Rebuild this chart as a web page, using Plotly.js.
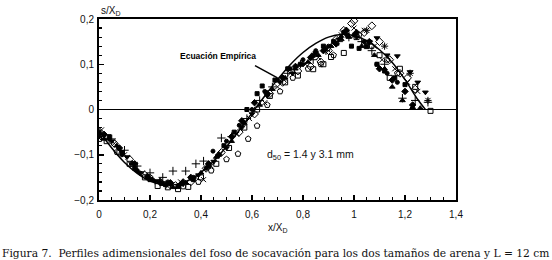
<!DOCTYPE html>
<html><head><meta charset="utf-8">
<script src="https://cdn.plot.ly/plotly-3.0.1.min.js"></script>
<style>html,body{margin:0;padding:0;background:#fff}#c{width:552px;height:260px}</style>
</head><body><div id="c"></div>
<script>
// Empirical equation curve
const curveX = [0,0.05,0.1,0.15,0.2,0.25,0.3,0.35,0.4,0.45,0.5,0.55,0.6,0.65,0.7,0.75,0.8,0.85,0.9,0.95,1.0,1.05,1.1,1.15,1.2,1.25,1.28];
const curveY = [-0.048,-0.085,-0.117,-0.141,-0.158,-0.166,-0.166,-0.157,-0.139,-0.114,-0.082,-0.046,-0.008,0.030,0.066,0.099,0.126,0.146,0.160,0.166,0.163,0.152,0.132,0.104,0.066,0.022,0.0];

// Measured profiles
const diamondX = [0.01,0.06,0.12,0.18,0.24,0.30,0.36,0.42,0.48,0.55,0.61,0.67,0.72,0.78,0.83,0.87,0.90,0.93,0.96,0.99,1.00,1.04,1.07,1.10,1.14,1.18,1.21,1.24];
const diamondY = [-0.06,-0.075,-0.11,-0.145,-0.16,-0.168,-0.16,-0.13,-0.095,-0.05,-0.01,0.035,0.06,0.085,0.095,0.105,0.13,0.155,0.175,0.19,0.196,0.17,0.185,0.15,0.11,0.08,0.07,0.045];

const sqX = [0.0,0.04,0.09,0.14,0.2,0.26,0.31,0.37,0.43,0.49,0.53,0.58,0.62,0.64,0.69,0.74,0.79,0.84,0.88,0.92,0.96,0.99,1.02,1.05,1.09,1.12,1.16,1.2];
const sqY = [-0.05,-0.06,-0.095,-0.13,-0.155,-0.165,-0.17,-0.155,-0.125,-0.08,-0.05,0.0,0.035,0.052,0.065,0.09,0.1,0.12,0.14,0.15,0.17,0.14,0.135,0.14,0.1,0.085,0.07,0.055];

const triUpX = [0.02,0.07,0.13,0.19,0.25,0.29,0.34,0.4,0.46,0.52,0.57,0.63,0.68,0.73,0.77,0.82,0.86,0.91,0.95,0.98,1.03,1.08,1.12,1.15,1.19,1.23,1.26];
const triUpY = [-0.065,-0.08,-0.12,-0.15,-0.165,-0.172,-0.162,-0.14,-0.105,-0.07,-0.03,0.01,0.045,0.07,0.09,0.105,0.12,0.14,0.155,0.16,0.14,0.12,0.09,0.05,0.02,0.005,0.003];

const triDnX = [0.0,0.05,0.11,0.16,0.22,0.28,0.33,0.39,0.45,0.5,0.56,0.6,0.66,0.71,0.76,0.8,0.85,0.89,0.94,0.97,1.01,1.06,1.09,1.13,1.17,1.22,1.25,1.28];
const triDnY = [-0.055,-0.07,-0.105,-0.14,-0.158,-0.165,-0.165,-0.145,-0.115,-0.085,-0.04,-0.01,0.03,0.06,0.08,0.1,0.125,0.135,0.155,0.165,0.16,0.15,0.158,0.12,0.118,0.083,0.06,0.038];

const xmX = [0.01,0.06,0.1,0.17,0.23,0.27,0.32,0.38,0.41,0.44,0.54,0.59,0.65,0.7,0.75,0.81,0.86,0.9,0.95,1.0,1.04,1.08,1.11,1.16,1.21,1.25];
const xmY = [-0.045,-0.075,-0.1,-0.14,-0.16,-0.17,-0.16,-0.15,-0.155,-0.125,-0.055,-0.02,0.015,0.05,0.08,0.1,0.115,0.13,0.165,0.18,0.175,0.14,0.11,0.09,0.06,0.04];

const plusX = [0.0,0.05,0.1,0.15,0.2,0.25,0.29,0.34,0.38,0.41,0.48,0.52,0.58,0.63,0.68,0.74,0.79,0.84,0.89,0.94,0.98,1.03,1.07,1.12,1.19,1.24,1.29];
const plusY = [-0.05,-0.065,-0.09,-0.125,-0.14,-0.15,-0.136,-0.136,-0.12,-0.114,-0.063,-0.06,-0.02,0.02,0.05,0.08,0.1,0.11,0.13,0.15,0.16,0.15,0.13,0.1,0.025,0.02,0.016];

const osqX = [0.0,0.03,0.08,0.12,0.18,0.23,0.27,0.31,0.35,0.4,0.46,0.51,0.57,0.62,0.67,0.73,0.78,0.84,0.88,0.91,0.96,1.01,1.05,1.1,1.14,1.18,1.24,1.3];
const osqY = [-0.065,-0.07,-0.095,-0.12,-0.15,-0.169,-0.172,-0.176,-0.171,-0.15,-0.12,-0.085,-0.04,0.0,0.03,0.06,0.075,0.089,0.1,0.116,0.125,0.16,0.14,0.12,0.07,0.09,0.05,-0.003];

const pentX = [0.07,0.13,0.2,0.26,0.33,0.39,0.44,0.5,0.545,0.585,0.62,0.66,0.71,0.76,0.82,0.87,0.92,0.97,1.02,1.07,1.13,1.17];
const pentY = [-0.094,-0.12,-0.15,-0.165,-0.17,-0.16,-0.135,-0.11,-0.098,-0.065,-0.036,0.01,0.04,0.07,0.09,0.1,0.12,0.17,0.165,0.14,0.11,0.08];

const dotX = [0.0,0.04,0.09,0.15,0.21,0.27,0.32,0.37,0.42,0.447,0.5,0.55,0.6,0.65,0.7,0.75,0.8,0.85,0.9,0.95,1.0,1.04,1.09,1.13,1.17];
const dotY = [-0.06,-0.065,-0.1,-0.135,-0.155,-0.16,-0.165,-0.15,-0.13,-0.092,-0.07,-0.035,0.0,0.04,0.065,0.09,0.11,0.13,0.14,0.16,0.165,0.15,0.1,0.08,0.06];

const fdiaX = [0.02,0.08,0.14,0.19,0.24,0.28,0.33,0.36,0.43,0.47,0.52,0.56,0.61,0.66,0.72,0.77,0.83,0.88,0.93,0.97,1.01,1.06,1.1,1.15,1.2,1.23];
const fdiaY = [-0.055,-0.085,-0.12,-0.148,-0.16,-0.162,-0.16,-0.15,-0.12,-0.1,-0.06,-0.025,0.015,0.035,0.07,0.095,0.115,0.13,0.145,0.175,0.17,0.15,0.09,0.065,0.04,0.01];

const starX = [1.05,1.12,1.22,1.29];
const starY = [0.175,0.14,0.08,0.02];

const xTicks = [0,0.2,0.4,0.6,0.8,1,1.2,1.4];
const yTicks = [-0.2,-0.1,0,0.1,0.2];

function sc(x,y,sym,size){
  return {x:x,y:y,type:'scatter',mode:'markers',hoverinfo:'skip',
    marker:{symbol:sym,size:size||5,color:'#000',line:{color:'#000',width:1}}};
}
const data = [
  sc(diamondX,diamondY,'diamond-open',6),
  sc(sqX,sqY,'square',4),
  sc(triUpX,triUpY,'triangle-up',5),
  sc(triDnX,triDnY,'triangle-down',5),
  sc(xmX,xmY,'x-thin-open',5),
  sc(plusX,plusY,'cross-thin-open',6),
  sc(osqX,osqY,'square-open',5),
  sc(pentX,pentY,'pentagon-open',6),
  sc(dotX,dotY,'circle',4),
  sc(fdiaX,fdiaY,'diamond',5),
  sc(starX,starY,'asterisk-open',6),
  {x:curveX,y:curveY,type:'scatter',mode:'lines',line:{color:'#000',width:1.5,shape:'spline'},hoverinfo:'skip'}
];

const tickFont = {family:'Liberation Sans, Arial, sans-serif',size:10,color:'#111'};
const layout = {
  width:552,height:260,
  margin:{l:99,r:96,t:19,b:60},
  paper_bgcolor:'#fff',plot_bgcolor:'#fff',
  showlegend:false,
  separators:',.',
  xaxis:{range:[0,1.4],tickvals:xTicks,ticks:'inside',ticklen:5,tickwidth:1.5,tickcolor:'#000',
    showline:true,linewidth:2,linecolor:'#000',mirror:true,showgrid:false,zeroline:false,
    tickfont:tickFont,ticklabelstandoff:4,
    minor:{dtick:0.05,ticks:'inside',ticklen:3,tickwidth:1.2,tickcolor:'#000',showgrid:false}},
  yaxis:{range:[-0.2,0.2],tickvals:yTicks,ticks:'inside',ticklen:5,tickwidth:1.5,tickcolor:'#000',
    showline:true,linewidth:2,linecolor:'#000',mirror:true,showgrid:false,
    zeroline:true,zerolinewidth:1.5,zerolinecolor:'#000',
    tickfont:tickFont,ticklabelstandoff:1,
    minor:{dtick:0.02,ticks:'inside',ticklen:3,tickwidth:1.2,tickcolor:'#000',showgrid:false}},
  annotations:[
    {xref:'paper',yref:'paper',x:0,y:1,yshift:8,xanchor:'left',yanchor:'middle',showarrow:false,
     text:'s/X<sub>D</sub>',font:{family:'Liberation Sans, Arial, sans-serif',size:10,color:'#111'}},
    {xref:'paper',yref:'paper',x:0.5,y:0,yshift:-28,xanchor:'center',yanchor:'middle',showarrow:false,
     text:'x/X<sub>D</sub>',font:{family:'Liberation Sans, Arial, sans-serif',size:10,color:'#111'}},
    {xref:'x',yref:'y',x:0.467,y:0.118,xanchor:'center',yanchor:'middle',showarrow:false,
     text:'<b>Ecuación Empírica</b>',font:{family:'Liberation Sans, Arial, sans-serif',size:8.5,color:'#000'}},
    {xref:'x',yref:'y',x:0.70,y:0.07,ax:-24,ay:-13,showarrow:true,arrowhead:0,arrowwidth:1.5,arrowcolor:'#000',text:''},
    {xref:'x',yref:'y',x:0.83,y:-0.1,xanchor:'center',yanchor:'middle',showarrow:false,
     text:'d<sub>50</sub> = 1.4 y 3.1 mm',font:{family:'Liberation Sans, Arial, sans-serif',size:10.5,color:'#111'}},
    {xref:'paper',yref:'paper',x:0.5,y:0,yshift:-53,xanchor:'center',yanchor:'middle',showarrow:false,xshift:-2,
     text:'Figura 7.  Perfiles adimensionales del foso de socavación para los dos tamaños de arena y L = 12 cm',
     font:{family:'DejaVu Serif, serif',size:10.7,color:'#111'}}
  ]
};
Plotly.newPlot('c',data,layout,{staticPlot:true,displayModeBar:false});
</script></body></html>
